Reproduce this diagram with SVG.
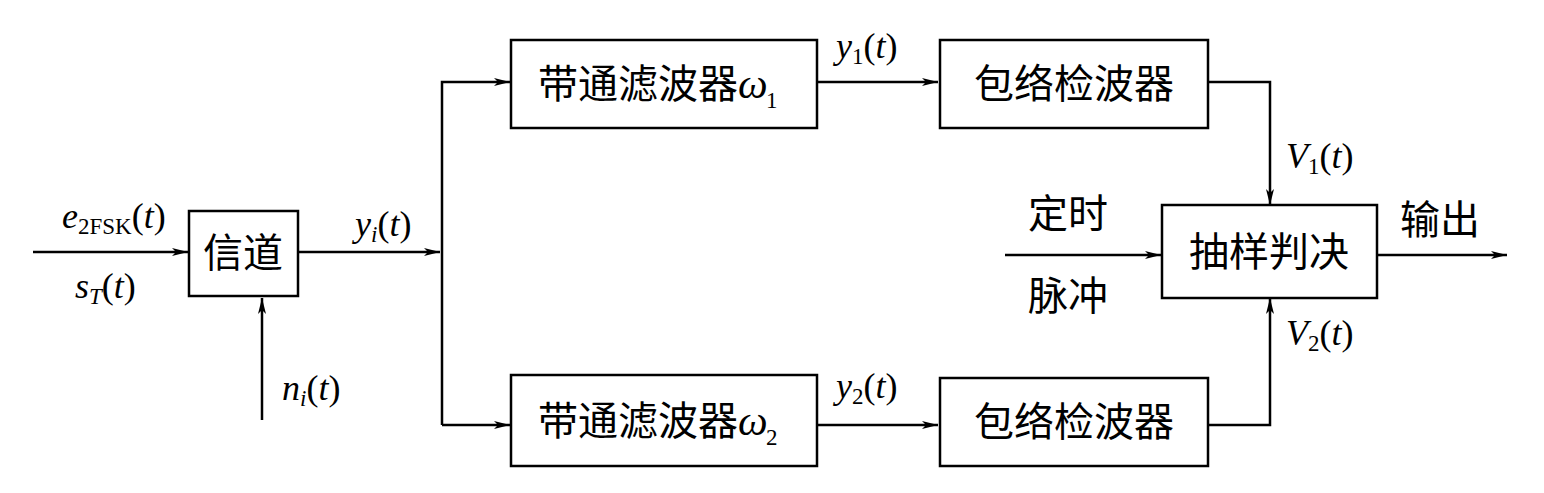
<svg xmlns="http://www.w3.org/2000/svg" width="1544" height="493" viewBox="0 0 1544 493">
<style>
.b{fill:#fff;stroke:#000;stroke-width:2.5}
.l{fill:none;stroke:#000;stroke-width:2.5}
.c{font-family:"Noto Sans CJK SC",sans-serif;font-size:40px;text-anchor:middle}
.m{font-family:"Liberation Serif",serif;font-size:36px}
.i{font-style:italic}
.s{font-size:23px}
.w{font-size:42px}
</style>
<defs><marker id="a" viewBox="0 0 16 8" refX="16" refY="4" markerWidth="16" markerHeight="8" markerUnits="userSpaceOnUse" orient="auto"><path d="M0,0L16,4L0,8L4,4Z" fill="#000"/></marker></defs>
<g id="connectors">
<path class="l" d="M33,252H188" marker-end="url(#a)"/>
<path class="l" d="M262,420V298" marker-end="url(#a)"/>
<path class="l" d="M298,252H440" marker-end="url(#a)"/>
<path class="l" d="M442,425V82H510" marker-end="url(#a)"/>
<path class="l" d="M442,425H510" marker-end="url(#a)"/>
<path class="l" d="M817,82H938" marker-end="url(#a)"/>
<path class="l" d="M817,425H938" marker-end="url(#a)"/>
<path class="l" d="M1208,82H1270V205" marker-end="url(#a)"/>
<path class="l" d="M1208,425H1270V298" marker-end="url(#a)"/>
<path class="l" d="M1005,255H1161" marker-end="url(#a)"/>
<path class="l" d="M1377,255H1507" marker-end="url(#a)"/>
</g>
<g id="channel"><rect class="b" x="189" y="211" width="109" height="85"/><text class="c" x="243" y="267">信道</text></g>
<g id="bpf1"><rect class="b" x="511" y="40" width="306" height="88"/><text class="c" x="638" y="98">带通滤波器</text><text class="m i w" x="738" y="98">ω</text><text class="m s" x="766" y="108">1</text></g>
<g id="bpf2"><rect class="b" x="511" y="375" width="306" height="91"/><text class="c" x="638" y="435">带通滤波器</text><text class="m i w" x="738" y="435">ω</text><text class="m s" x="766" y="445">2</text></g>
<g id="env1"><rect class="b" x="940" y="40" width="268" height="88"/><text class="c" x="1074" y="98">包络检波器</text></g>
<g id="env2"><rect class="b" x="940" y="378" width="268" height="88"/><text class="c" x="1074" y="436">包络检波器</text></g>
<g id="dec"><rect class="b" x="1162" y="205" width="215" height="93"/><text class="c" x="1269" y="266">抽样判决</text></g>
<g id="labels">
<text class="m" x="62" y="228"><tspan class="i">e</tspan><tspan class="s" dy="6">2FSK</tspan><tspan dy="-6">(</tspan><tspan class="i">t</tspan>)</text>
<text class="m" x="75" y="298"><tspan class="i">s</tspan><tspan class="s i" dy="6">T</tspan><tspan dy="-6">(</tspan><tspan class="i">t</tspan>)</text>
<text class="m" x="282" y="400"><tspan class="i">n</tspan><tspan class="s i" dy="6">i</tspan><tspan dy="-6">(</tspan><tspan class="i">t</tspan>)</text>
<text class="m" x="355" y="236"><tspan class="i">y</tspan><tspan class="s i" dy="6">i</tspan><tspan dy="-6">(</tspan><tspan class="i">t</tspan>)</text>
<text class="m" x="836" y="58"><tspan class="i">y</tspan><tspan class="s" dy="6">1</tspan><tspan dy="-6">(</tspan><tspan class="i">t</tspan>)</text>
<text class="m" x="836" y="398"><tspan class="i">y</tspan><tspan class="s" dy="6">2</tspan><tspan dy="-6">(</tspan><tspan class="i">t</tspan>)</text>
<text class="m" x="1286" y="168"><tspan class="i">V</tspan><tspan class="s" dy="6">1</tspan><tspan dy="-6">(</tspan><tspan class="i">t</tspan>)</text>
<text class="m" x="1286" y="345"><tspan class="i">V</tspan><tspan class="s" dy="6">2</tspan><tspan dy="-6">(</tspan><tspan class="i">t</tspan>)</text>
<text class="c" x="1068" y="228">定时</text>
<text class="c" x="1068" y="310">脉冲</text>
<text class="c" x="1440" y="234">输出</text>
</g>
</svg>
